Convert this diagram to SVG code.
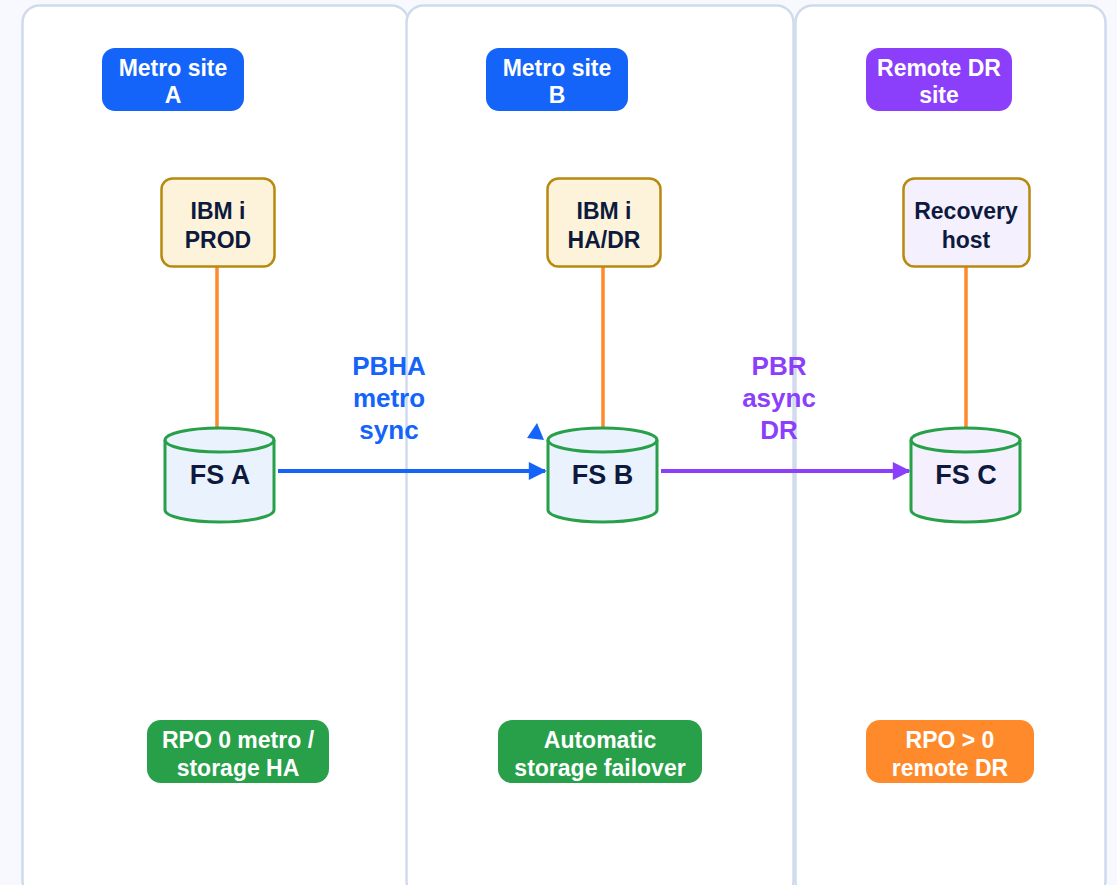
<svg xmlns="http://www.w3.org/2000/svg" width="1117" height="885" viewBox="0 0 1117 885">
<style>
.panel{fill:#ffffff;stroke:#cfdbec;stroke-width:2.5}
.tag{font-family:"Liberation Sans",Arial,sans-serif;font-weight:bold;font-size:23px;fill:#ffffff;text-anchor:middle}
.ntxt{font-family:"Liberation Sans",Arial,sans-serif;font-weight:bold;font-size:23px;fill:#0e1a3d;text-anchor:middle}
.ctxt{font-family:"Liberation Sans",Arial,sans-serif;font-weight:bold;font-size:27px;fill:#0e1a3d;text-anchor:middle}
.etxt{font-family:"Liberation Sans",Arial,sans-serif;font-weight:bold;font-size:26px;text-anchor:middle}
.host{stroke:#b8890f;stroke-width:2.5}
.cyl{stroke:#28a04a;stroke-width:3}
.link{stroke:#ff8a2b;stroke-width:3.5;fill:none}
</style>
<defs>
<marker id="ab" viewBox="0 0 10 10" refX="9" refY="5" markerWidth="4.75" markerHeight="4.5" orient="auto" markerUnits="strokeWidth"><path d="M0,0 L10,5 L0,10 z" fill="#1464fa"/></marker>
<marker id="ap" viewBox="0 0 10 10" refX="9" refY="5" markerWidth="4.75" markerHeight="4.5" orient="auto" markerUnits="strokeWidth"><path d="M0,0 L10,5 L0,10 z" fill="#8c3ffb"/></marker>
</defs>
<rect width="1117" height="885" fill="#f7f9fe"/>
<g id="panels">
<rect class="panel" x="22.5" y="5.5" width="386" height="892" rx="17"/>
<rect class="panel" x="406.5" y="5.5" width="387" height="892" rx="17"/>
<rect class="panel" x="795.5" y="5.5" width="310" height="892" rx="17"/>
</g>
<g id="connectors">
<line class="link" x1="217" y1="266" x2="217" y2="428"/>
<line class="link" x1="603" y1="266" x2="603" y2="428"/>
<line class="link" x1="966" y1="266" x2="966" y2="428"/>
<line x1="278" y1="471" x2="545" y2="471" stroke="#1464fa" stroke-width="4" marker-end="url(#ab)"/>
<line x1="661" y1="471" x2="909" y2="471" stroke="#8c3ffb" stroke-width="4" marker-end="url(#ap)"/>
<polygon points="537,423 527,438 544,440" fill="#1464fa"/>
<g id="label-pbha" class="etxt"><text x="389" y="375" fill="#1464fa">PBHA</text><text x="389" y="407" fill="#1464fa">metro</text><text x="389" y="439" fill="#1464fa">sync</text></g>
<g id="label-pbr" class="etxt"><text x="779" y="375" fill="#8c3ffb">PBR</text><text x="779" y="407" fill="#8c3ffb">async</text><text x="779" y="439" fill="#8c3ffb">DR</text></g>
</g>
<g id="site-a">
<rect x="102" y="48" width="142" height="63" rx="13" fill="#1464fa"/>
<text class="tag" x="173" y="76">Metro site</text><text class="tag" x="173" y="103">A</text>
</g>
<g id="site-b">
<rect x="486" y="48" width="142" height="63" rx="13" fill="#1464fa"/>
<text class="tag" x="557" y="76">Metro site</text><text class="tag" x="557" y="103">B</text>
</g>
<g id="site-c">
<rect x="866" y="48" width="146" height="63" rx="13" fill="#8c3ffb"/>
<text class="tag" x="939" y="76">Remote DR</text><text class="tag" x="939" y="103">site</text>
</g>
<g id="host-prod">
<rect class="host" x="161.5" y="178.5" width="113" height="88" rx="11" fill="#fdf3da"/>
<text class="ntxt" x="218" y="219">IBM i</text><text class="ntxt" x="218" y="248">PROD</text>
</g>
<g id="host-hadr">
<rect class="host" x="547.5" y="178.5" width="113" height="88" rx="11" fill="#fdf3da"/>
<text class="ntxt" x="604" y="219">IBM i</text><text class="ntxt" x="604" y="248">HA/DR</text>
</g>
<g id="host-recovery">
<rect class="host" x="903.5" y="178.5" width="126" height="88" rx="11" fill="#f5f0fd"/>
<text class="ntxt" x="966" y="219">Recovery</text><text class="ntxt" x="966" y="248">host</text>
</g>
<g id="fs-a">
<path class="cyl" fill="#eaf2fd" d="M165,440 A54.5,12 0 0 1 274,440 L274,510 A54.5,12 0 0 1 165,510 Z"/>
<path class="cyl" fill="none" d="M165,440 A54.5,12 0 0 0 274,440"/>
<text class="ctxt" x="220" y="484">FS A</text>
</g>
<g id="fs-b">
<path class="cyl" fill="#eaf2fd" d="M548,440 A54.5,12 0 0 1 657,440 L657,510 A54.5,12 0 0 1 548,510 Z"/>
<path class="cyl" fill="none" d="M548,440 A54.5,12 0 0 0 657,440"/>
<text class="ctxt" x="602.5" y="484">FS B</text>
</g>
<g id="fs-c">
<path class="cyl" fill="#f5f0fd" d="M911,440 A54.5,12 0 0 1 1020,440 L1020,510 A54.5,12 0 0 1 911,510 Z"/>
<path class="cyl" fill="none" d="M911,440 A54.5,12 0 0 0 1020,440"/>
<text class="ctxt" x="966" y="484">FS C</text>
</g>
<g id="note-a">
<rect x="147" y="720" width="182" height="63" rx="14" fill="#28a04a"/>
<text class="tag" x="238" y="748">RPO 0 metro /</text><text class="tag" x="238" y="776">storage HA</text>
</g>
<g id="note-b">
<rect x="498" y="720" width="204" height="63" rx="14" fill="#28a04a"/>
<text class="tag" x="600" y="748">Automatic</text><text class="tag" x="600" y="776">storage failover</text>
</g>
<g id="note-c">
<rect x="866" y="720" width="168" height="63" rx="14" fill="#ff8a2b"/>
<text class="tag" x="950" y="748">RPO &gt; 0</text><text class="tag" x="950" y="776">remote DR</text>
</g>
</svg>
